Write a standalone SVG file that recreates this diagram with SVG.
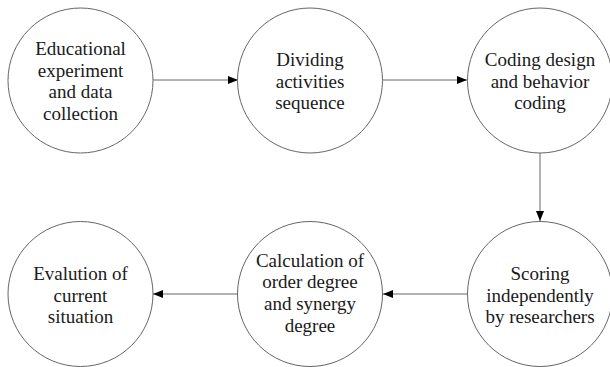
<svg xmlns="http://www.w3.org/2000/svg" width="610" height="367" viewBox="0 0 610 367">
<defs>
<marker id="arr" viewBox="0 0 10 8" refX="10" refY="4" markerWidth="10" markerHeight="8" markerUnits="userSpaceOnUse" orient="auto">
<path d="M0,0 L10,4 L0,8 Z" fill="#000"/>
</marker>
</defs>
<style>
.node circle{fill:#fff;stroke:#666;stroke-width:1}
.node text{font-family:'Liberation Serif','Times New Roman',serif;font-size:19px;fill:#1a1a1a;text-anchor:middle}
.conn line{stroke:#666;stroke-width:1;marker-end:url(#arr)}
</style>
<rect width="610" height="367" fill="#fff"/>
<g class="conn">
<line x1="153" y1="80" x2="238" y2="80"/>
<line x1="383" y1="80" x2="467" y2="80"/>
<line x1="540" y1="153" x2="540" y2="221"/>
<line x1="467" y1="294" x2="383" y2="294"/>
<line x1="238" y1="294" x2="153" y2="294"/>
</g>
<g id="n1" class="node">
<circle cx="80.5" cy="80.5" r="72.5"/>
<text x="80.5" y="54.5">Educational</text>
<text x="80.5" y="76.5">experiment</text>
<text x="80.5" y="98">and data</text>
<text x="80.5" y="120">collection</text>
</g>
<g id="n2" class="node">
<circle cx="310" cy="80.5" r="72.5"/>
<text x="310" y="65.5">Dividing</text>
<text x="310" y="87.5">activities</text>
<text x="310" y="109">sequence</text>
</g>
<g id="n3" class="node">
<circle cx="540" cy="80.5" r="72.5"/>
<text x="540" y="65.5">Coding design</text>
<text x="540" y="87.5">and behavior</text>
<text x="540" y="109">coding</text>
</g>
<g id="n4" class="node">
<circle cx="80.5" cy="294" r="72.5"/>
<text x="80.5" y="279.5">Evalution of</text>
<text x="80.5" y="301.5">current</text>
<text x="80.5" y="323">situation</text>
</g>
<g id="n5" class="node">
<circle cx="310" cy="294" r="72.5"/>
<text x="310" y="266.5">Calculation of</text>
<text x="310" y="288">order degree</text>
<text x="310" y="310">and synergy</text>
<text x="310" y="331.5">degree</text>
</g>
<g id="n6" class="node">
<circle cx="540" cy="294" r="72.5"/>
<text x="540" y="279.5">Scoring</text>
<text x="540" y="301.5">independently</text>
<text x="540" y="323">by researchers</text>
</g>
</svg>
